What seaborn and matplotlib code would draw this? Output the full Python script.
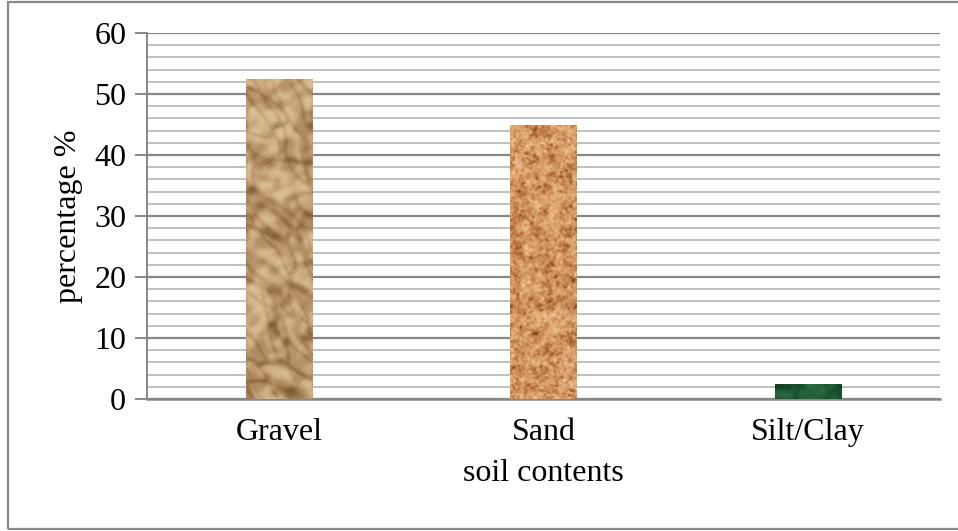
import numpy as np
import pandas as pd
import matplotlib
matplotlib.use("Agg")
import matplotlib.pyplot as plt
from matplotlib.patches import Rectangle
from matplotlib.colors import LinearSegmentedColormap
import seaborn as sns

# soil composition
categories = ["Gravel", "Sand", "Silt/Clay"]
percentages = [52.5, 45.0, 2.5]

df = pd.DataFrame({"soil contents": categories, "percentage %": percentages})

sns.set_theme(style="white")
plt.rcParams["font.family"] = ["Liberation Serif", "DejaVu Serif"]
plt.rcParams["text.color"] = "black"
plt.rcParams["axes.labelcolor"] = "black"
plt.rcParams["xtick.color"] = "black"
plt.rcParams["ytick.color"] = "black"

W, H, DPI = 958, 531, 100
fig = plt.figure(figsize=(W / DPI, H / DPI), dpi=DPI)
ax = fig.add_axes([147 / W, 1 - 399 / H, (940 - 147) / W, (399 - 33) / H])

sns.barplot(data=df, x="soil contents", y="percentage %", ax=ax,
            width=0.25, color="#c8a478", saturation=1, zorder=3)


def blur(a, sx, sy):
    """Gaussian blur via FFT (numpy only)."""
    h, w = a.shape
    fy = np.fft.fftfreq(h)[:, None]
    fx = np.fft.fftfreq(w)[None, :]
    k = np.exp(-2 * (np.pi ** 2) * ((fx * sx) ** 2 + (fy * sy) ** 2))
    return np.real(np.fft.ifft2(np.fft.fft2(a) * k))


def norm(a):
    a = a - a.min()
    return a / (a.max() + 1e-9)


rng = np.random.default_rng(3)


def rotated_noise(h, w, sx, sy, angle):
    """Anisotropic smooth noise, stretched along a rotated direction."""
    n = 2 * max(h, w) + 40
    big = blur(rng.standard_normal((n, n)), sx, sy)
    big /= big.std()
    yy, xx = np.mgrid[0:h, 0:w].astype(float)
    yy -= h / 2
    xx -= w / 2
    c, s = np.cos(angle), np.sin(angle)
    u = (c * xx - s * yy + n / 2).astype(int) % n
    v = (s * xx + c * yy + n / 2).astype(int) % n
    return big[v, u]


def crumpled(h, w):
    # folded-paper look: broad diagonal creases, lit from top-left
    a = rotated_noise(h, w, 18, 6.0, np.deg2rad(-35))
    b = rotated_noise(h, w, 14, 5.0, np.deg2rad(-65))
    c = blur(rng.standard_normal((h, w)), 4, 4)
    c /= c.std()
    height = 0.6 * a + 0.4 * b + 0.2 * c
    creases = np.minimum(np.abs(a), np.abs(b) * 1.3)
    crease_dark = blur(np.exp(-(creases / 0.30) ** 2), 1.2, 1.2)
    gy, gx = np.gradient(height)
    shade = -(0.6 * gx + 0.8 * gy)
    shade /= shade.std() + 1e-9
    t = 0.64 + 0.15 * np.tanh(0.9 * shade) - 0.25 * crease_dark
    t += 0.04 * c / 3
    t = t.clip(0, 1)
    cmap = LinearSegmentedColormap.from_list(
        "paper", ["#4a2f14", "#765229", "#a37f52", "#c4a176", "#dcc197", "#efdcbc"])
    return cmap(t)


def speckled(h, w):
    # sand grains: fine speckle with a few dark grains
    n1 = blur(rng.standard_normal((h, w)), 0.9, 0.9)
    n2 = blur(rng.standard_normal((h, w)), 3, 3)
    t = norm(0.7 * norm(n1) + 0.4 * norm(n2))
    cmap = LinearSegmentedColormap.from_list(
        "sand", ["#7a3f18", "#b3703c", "#d59a66", "#e8b886", "#f2cfa2"])
    return cmap(t)


def mossy(h, w):
    n1 = blur(rng.standard_normal((h, w)), 2.5, 2.5)
    t = norm(n1)
    cmap = LinearSegmentedColormap.from_list(
        "moss", ["#0e3a1e", "#1f5a34", "#2f6e45"])
    return cmap(t)


textures = [crumpled, speckled, mossy]
ax.set_ylim(0, 60)
ax.set_xlim(-0.5, 2.5)
fig.canvas.draw()
for patch, make in zip(ax.patches, textures):
    x0, y0 = patch.get_x(), patch.get_y()
    bw, bh = patch.get_width(), patch.get_height()
    px = ax.transData.transform([[x0, y0], [x0 + bw, y0 + bh]])
    pw = max(int(abs(px[1, 0] - px[0, 0])), 2)
    ph = max(int(abs(px[1, 1] - px[0, 1])), 2)
    img = make(ph, pw)
    im = ax.imshow(img, extent=(x0, x0 + bw, y0, y0 + bh), aspect="auto",
                   zorder=4, interpolation="bilinear")
    im.set_clip_path(patch)
    patch.set_edgecolor("none")
ax.set_aspect("auto")
ax.set_xlim(-0.5, 2.5)
ax.set_ylim(0, 60)

# gridlines: major every 10, minor every 2
ax.set_yticks(np.arange(0, 61, 10))
ax.set_yticks(np.arange(0, 61, 2), minor=True)
ax.grid(axis="y", which="major", color="#878787", linewidth=1.6, zorder=1)
ax.grid(axis="y", which="minor", color="#c0c0c0", linewidth=1.4, zorder=1)
ax.grid(axis="x", visible=False)
ax.set_axisbelow(True)

for side in ["top", "right"]:
    ax.spines[side].set_visible(False)
ax.spines["left"].set_color("#878787")
ax.spines["left"].set_linewidth(1.4)
ax.spines["bottom"].set_color("#878787")
ax.spines["bottom"].set_linewidth(1.8)

ax.tick_params(axis="y", which="major", direction="out", length=9, width=1.4,
               color="#878787", labelcolor="black", labelsize=23, pad=6, left=True)
ax.tick_params(axis="y", which="minor", length=0)
ax.tick_params(axis="x", length=0, labelsize=23, labelcolor="black", pad=14)

ax.set_xlabel("soil contents", fontsize=23, labelpad=8, color="black")
ax.set_ylabel("percentage %", fontsize=23, labelpad=8, color="black")

# chart frame
fig.patches.append(Rectangle((8 / W, 1 - 529 / H), 1.2, (529 - 2) / H,
                             transform=fig.transFigure, fill=False,
                             edgecolor="#888888", linewidth=1.6))

fig.savefig("out.png", dpi=DPI)
